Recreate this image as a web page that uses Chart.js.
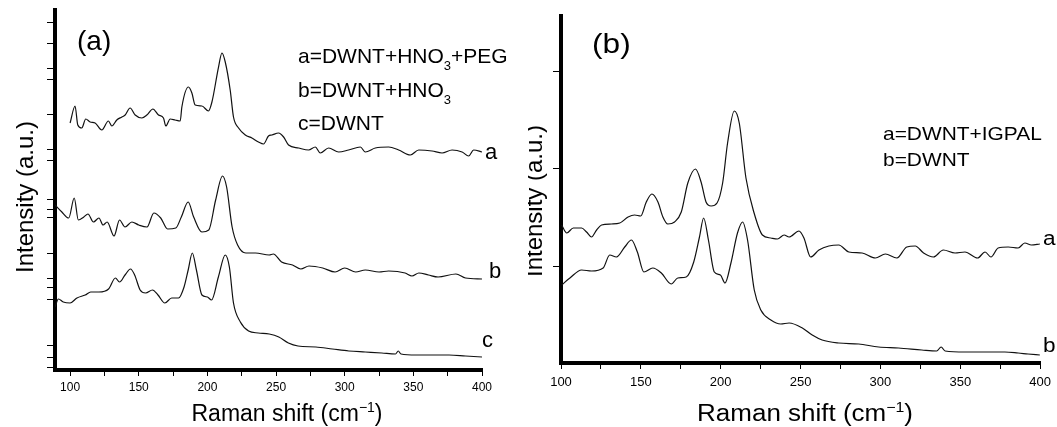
<!DOCTYPE html>
<html>
<head>
<meta charset="utf-8">
<script src="https://cdn.jsdelivr.net/npm/chart.js@4.4.0/dist/chart.umd.min.js"></script>
<style>
  html, body { margin: 0; padding: 0; background: #fff; }
  #wrap { position: relative; width: 1057px; height: 427px; }
  canvas { position: absolute; top: 0; }
</style>
</head>
<body>
<div id="wrap">
  <canvas id="chartA" width="528" height="427" style="left:0"></canvas>
  <canvas id="chartB" width="529" height="427" style="left:528px"></canvas>
</div>
<script>
// ================= DATA =================
// x ticks (Raman shift, cm-1) - marks every 25, labels every 50
const xTickVals = [100, 125, 150, 175, 200, 225, 250, 275, 300, 325, 350, 375, 400];
const xLabelVals = [100, 150, 200, 250, 300, 350, 400];

// y tick marks (arbitrary intensity units)
const yTicksA = [347, 327, 302, 290, 255, 220, 209, 171, 161, 152, 117, 92, 83, 71, 25, 13, 3];
const yTicksB = [97, 195, 292];

// panel (a): a = DWNT+HNO3+PEG
const aPegX = [100, 103.6, 105.6, 108.5, 111.4, 114.6, 118.2, 123.1, 127.9, 130.4, 134, 137.7, 140.1, 143.7, 147.4, 152.3, 155.9, 160.3, 164.4, 168, 169.7, 172.9, 176.5, 180.2, 181.4, 186.2, 188.7, 191.1, 196, 200.8, 203.3, 208.1, 210.6, 213, 216.6, 219, 222.7, 227.6, 232.4, 237.2, 240.9, 244.5, 247, 251.8, 255.5, 259.1, 266.4, 273.7, 278.6, 282.2, 288.3, 295.6, 302.8, 311.4, 315, 322.3, 332, 339.3, 347.8, 353.9, 363.6, 370.9, 378.2, 385.5, 390.3, 393.9, 400];
const aPegY = [247, 264, 245, 242, 251, 248, 247, 240, 249, 244, 250, 253, 255, 262, 255, 252, 255, 261, 255, 252, 244, 251, 250, 249, 263, 283, 277, 265, 264, 259, 268, 303, 317, 308, 280, 253, 242, 235, 232, 228, 226, 234, 235, 237, 233, 225, 222, 220, 223, 217, 222, 218, 220, 223, 218, 222, 223, 220, 215, 220, 219, 217, 220, 218, 214, 220, 218];

// panel (a): b = DWNT+HNO3
const aHno3X = [89, 94, 99, 103, 106, 110, 113, 117, 121, 124, 127, 132, 136, 140, 145, 150, 156, 161, 166, 171, 177, 181, 186, 190, 196, 201, 206, 211, 214, 218, 222, 228, 235, 245, 248, 254, 262, 268, 274, 284, 293, 300, 308, 315, 325, 332, 344, 349, 354, 361, 368, 381, 388, 400];
const aHno3Y = [165, 158, 152, 172, 150, 153, 156, 148, 152, 145, 148, 134, 150, 143, 148, 145, 143, 157, 152, 141, 142, 153, 168, 153, 138, 140, 170, 194, 183, 143, 125, 117, 117, 115, 116, 108, 105, 101, 104, 102, 98, 102, 98, 100, 98, 99, 97, 94, 97, 95, 93, 96, 92, 91];

// panel (a): c = DWNT
const aDwntX = [89, 91.5, 95, 100, 105, 111, 115, 121, 128, 133, 136, 140, 144, 147, 151, 155, 160, 164, 169, 174, 179, 183, 186, 189, 192, 196, 200, 203, 208, 213, 216, 219, 224, 230, 237, 245, 252, 259, 266, 279, 291, 303, 315, 327, 337, 339, 341, 352, 364, 376, 388, 400];
const aDwntY = [63, 71, 68, 67, 72, 75, 78, 78, 81, 92, 88, 95, 101, 95, 80, 77, 80, 75, 67, 72, 72, 83, 100, 117, 100, 75, 73, 70, 93, 115, 103, 67, 48, 39, 37, 36, 33, 27, 24, 23, 21, 19, 18, 17, 16, 19, 16, 15, 15, 15, 14, 13];

// panel (b): a = DWNT+IGPAL
const bIgpalX = [100.4, 103.6, 107.7, 112.9, 116, 119.1, 122.3, 125.4, 131.6, 136.8, 142, 146.1, 149.9, 153.4, 156.9, 160.7, 163.8, 166.9, 171.1, 175.3, 179.4, 184.2, 187.7, 190.8, 194, 197.7, 201.2, 204.3, 208.5, 211.6, 215.8, 220.9, 226.1, 231.4, 235.5, 239.7, 242.8, 249, 252.1, 256.3, 261.5, 267.7, 273.9, 280.2, 288.5, 296.8, 303.1, 310.3, 316.5, 321.8, 327, 333.2, 339.4, 346.7, 352.9, 360.8, 365.5, 369.2, 373.7, 380, 386.2, 390.4, 394.5, 399.8];
const bIgpalY = [138, 130, 135, 135, 131, 126, 133, 138, 139, 140, 146, 148, 147, 161, 169, 161, 146, 139, 141, 151, 180, 194, 181, 161, 157, 160, 180, 220, 252, 240, 185, 150, 128, 125, 124, 128, 126, 132, 125, 106, 113, 117, 118, 111, 110, 105, 109, 105, 116, 117, 110, 106, 113, 110, 111, 105, 111, 106, 115, 116, 115, 120, 118, 119];

// panel (b): b = DWNT
const bDwntX = [100.4, 105.6, 112.9, 119.1, 126.4, 130.5, 134.7, 139.9, 144.1, 147.8, 151.9, 157.5, 162.8, 169, 173.1, 178.4, 183.1, 186.7, 189.3, 192.3, 196, 199.8, 202.7, 206.4, 210.5, 213.7, 216.8, 221, 225.1, 231.4, 237.6, 242.8, 251.1, 257.3, 263.5, 273.9, 286.4, 298.9, 311.3, 325.9, 335.2, 338, 340.5, 353, 367.5, 377.9, 386.2, 392.4, 399.8];
const bDwntY = [78, 85, 93, 92, 95, 108, 106, 116, 123, 111, 91, 95, 90, 79, 85, 86, 101, 126, 145, 123, 91, 88, 80, 100, 130, 141, 123, 73, 53, 43, 39, 40, 35, 28, 23, 20, 19, 16, 15, 13, 12, 16, 12, 11, 11, 11, 10, 9, 8];

// ================= HELPERS =================
const FONT = '"Liberation Sans", Arial, sans-serif';

function pts(xs, ys) {
    return xs.map((x, i) => ({ x: x, y: ys[i] }));
}

function line(xs, ys) {
    return {
        data: pts(xs, ys),
        borderColor: "#111",
        borderWidth: 1.2,
        pointRadius: 0,
        cubicInterpolationMode: "monotone",
        fill: false
    };
}

// text with sub/superscript runs, drawn on top of the chart
function drawParts(ctx, t) {
    ctx.save();
    ctx.translate(t.x, t.y);
    if (t.rot) ctx.rotate(t.rot);
    ctx.scale(t.sx || 1, 1);
    ctx.fillStyle = "#000";
    ctx.textBaseline = "alphabetic";
    ctx.textAlign = "left";
    const runs = t.parts.map(([s, kind]) => {
        const size = kind ? Math.round(t.size * 0.62) : t.size;
        ctx.font = size + "px " + FONT;
        return { s, kind, size, w: ctx.measureText(s).width };
    });
    const total = runs.reduce((a, r) => a + r.w, 0);
    let cx = t.center ? -total / 2 : 0;
    runs.forEach(r => {
        ctx.font = r.size + "px " + FONT;
        const dy = r.kind === "sub" ? t.size * 0.32 : r.kind === "sup" ? -t.size * 0.4 : 0;
        ctx.fillText(r.s, cx, dy);
        cx += r.w;
    });
    ctx.restore();
}

function textPlugin(items, offsetX) {
    return {
        id: "texts",
        afterDraw(chart) {
            const ctx = chart.ctx;
            items.forEach(t => drawParts(ctx, Object.assign({}, t, { x: t.x - offsetX })));
        }
    };
}

function xAxis(min, max, fontSize, pad, height) {
    return {
        type: "linear",
        min: min,
        max: max,
        afterBuildTicks: s => { s.ticks = xTickVals.map(v => ({ value: v })); },
        afterFit: s => { s.height = height; },
        border: { display: true, color: "#000", width: 4 },
        grid: { drawOnChartArea: false, drawTicks: true, tickLength: 6, color: "#000", lineWidth: 1 },
        ticks: {
            color: "#000",
            font: { family: FONT, size: fontSize },
            padding: pad,
            maxRotation: 0,
            autoSkip: false,
            callback: v => xLabelVals.includes(v) ? String(v) : ""
        }
    };
}

function yAxis(max, tickVals, width) {
    return {
        type: "linear",
        min: 0,
        max: max,
        afterBuildTicks: s => { s.ticks = tickVals.map(v => ({ value: v })); },
        afterFit: s => { s.width = width; },
        border: { display: true, color: "#000", width: 4 },
        grid: { drawOnChartArea: false, drawTicks: true, tickLength: 8, color: "#000", lineWidth: 1 },
        ticks: { display: false }
    };
}

const baseOptions = {
    responsive: false,
    animation: false,
    events: [],
    plugins: { legend: { display: false }, tooltip: { enabled: false } }
};

// ================= PANEL (a) =================
const textsA = [
    { x: 77, y: 50, size: 28, parts: [["(a)"]] },
    { x: 298, y: 63, size: 21, parts: [["a=DWNT+HNO"], ["3", "sub"], ["+PEG"]] },
    { x: 298, y: 97, size: 21, parts: [["b=DWNT+HNO"], ["3", "sub"]] },
    { x: 298, y: 130, size: 21, parts: [["c=DWNT"]] },
    { x: 485, y: 159, size: 22, parts: [["a"]] },
    { x: 489, y: 278, size: 22, parts: [["b"]] },
    { x: 482, y: 347, size: 22, parts: [["c"]] },
    { x: 33, y: 197, size: 24, rot: -Math.PI / 2, center: true, parts: [["Intensity (a.u.)"]] },
    { x: 287, y: 421, size: 23, center: true, parts: [["Raman shift (cm"], ["\u22121", "sup"], [")"]] }
];

new Chart(document.getElementById("chartA"), {
    type: "line",
    data: { datasets: [line(aPegX, aPegY), line(aHno3X, aHno3Y), line(aDwntX, aDwntY)] },
    options: Object.assign({}, baseOptions, {
        layout: { padding: { left: 0, right: 46, top: 10, bottom: 0 } },
        scales: {
            x: xAxis(89, 400, 12, 4, 57),
            y: yAxis(360, yTicksA, 55)
        }
    }),
    plugins: [textPlugin(textsA, 0)]
});

// ================= PANEL (b) =================
const SX = 1.13;
const textsB = [
    { x: 592, y: 53, size: 28, sx: SX, parts: [["(b)"]] },
    { x: 883, y: 140, size: 18.5, sx: SX, parts: [["a=DWNT+IGPAL"]] },
    { x: 883, y: 166, size: 18.5, sx: SX, parts: [["b=DWNT"]] },
    { x: 1043, y: 245, size: 20, sx: SX, parts: [["a"]] },
    { x: 1043, y: 352, size: 20, sx: SX, parts: [["b"]] },
    { x: 542, y: 201, size: 24, rot: -Math.PI / 2, center: true, parts: [["Intensity (a.u.)"]] },
    { x: 805, y: 421, size: 23, sx: SX, center: true, parts: [["Raman shift (cm"], ["\u22121", "sup"], [")"]] }
];

new Chart(document.getElementById("chartB"), {
    type: "line",
    data: { datasets: [line(bIgpalX, bIgpalY), line(bDwntX, bDwntY)] },
    options: Object.assign({}, baseOptions, {
        layout: { padding: { left: 0, right: 15, top: 16, bottom: 0 } },
        scales: {
            x: xAxis(100, 400, 13, 6, 64),
            y: yAxis(347, yTicksB, 33)
        }
    }),
    plugins: [textPlugin(textsB, 528)]
});
</script>
</body>
</html>
